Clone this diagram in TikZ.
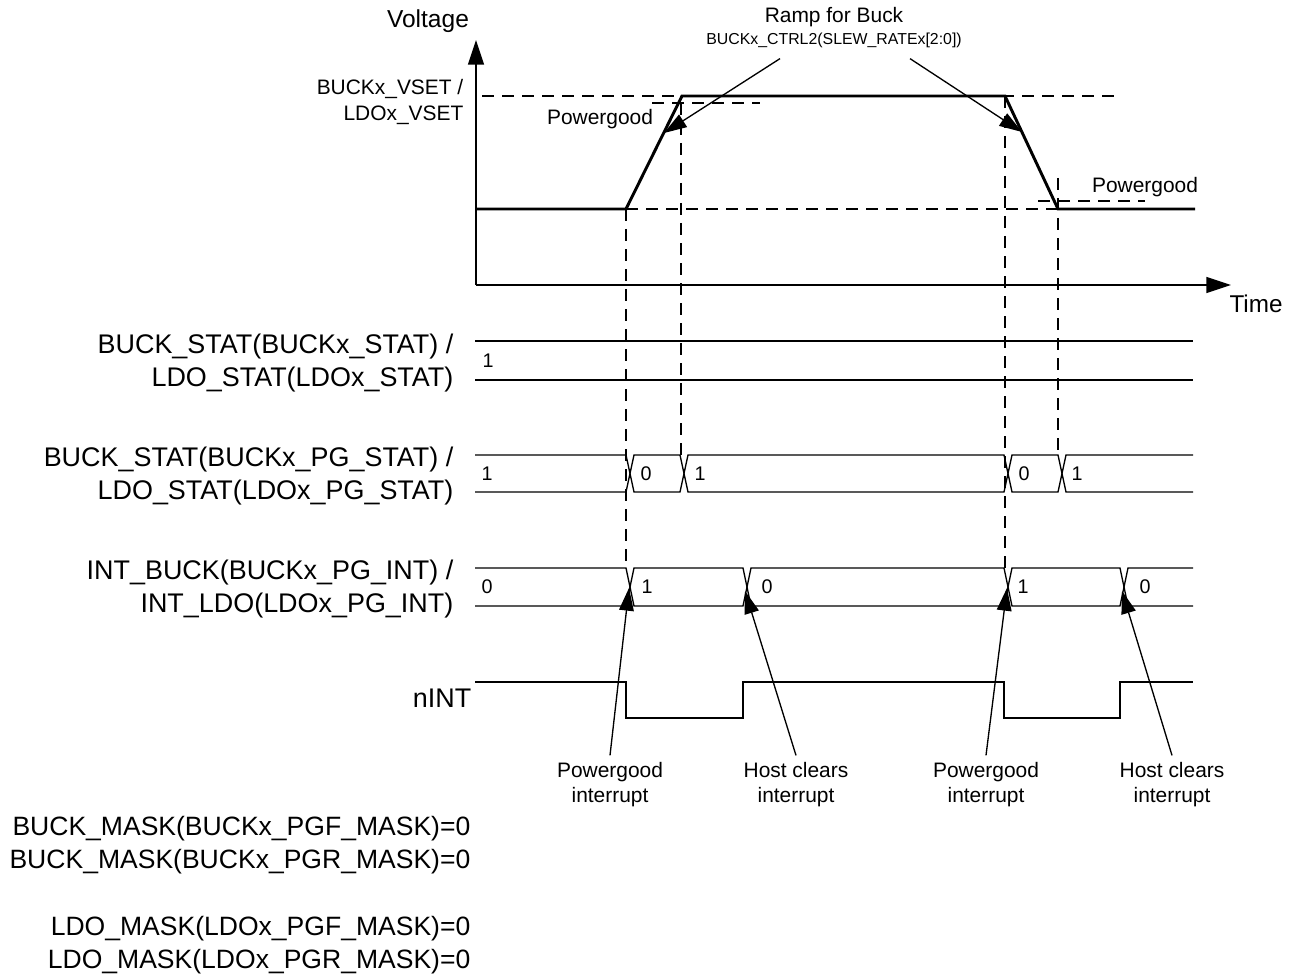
\documentclass[tikz,border=0pt]{standalone}
\usepackage{fontspec}
\setmainfont{Liberation Sans}
\usetikzlibrary{arrows.meta}

\tikzset{every picture/.style={line width=1pt}}
\tikzset{
  waveline/.style={line width=2.2pt, line join=miter},
  guideline/.style={dash pattern=on 9pt off 6pt},
  axisline/.style={-{Triangle[length=18.5pt,width=12pt]}},
  callout/.style={-{Triangle[length=17pt,width=11pt]}},
  siglabel/.style={anchor=east, align=right, inner sep=0.75pt, font=\fontsize{20.2pt}{24.75pt}\selectfont},
  masklabel/.style={siglabel, font=\fontsize{19.9pt}{24.75pt}\selectfont},
  notetext/.style={inner sep=0.75pt, font=\fontsize{15.7pt}{19.5pt}\selectfont},
  annote/.style={align=center, inner sep=5pt, font=\fontsize{15.7pt}{18.75pt}\selectfont},
  bitval/.style={inner sep=0.75pt, font=\fontsize{14.8pt}{16pt}\selectfont},
}

\begin{document}
\begin{tikzpicture}[x=0.75pt,y=0.75pt,yscale=-1,xscale=1]
\useasboundingbox (0,0) rectangle (1296,977);
%Axes
\draw [axisline] (476,285) -- (476,40) ;
\draw [axisline] (476,285) -- (1231,285) ;
%Voltage ramp
\draw [waveline] (476,209) -- (626,209) -- (682,96) -- (1005,96) -- (1058,209) -- (1195,209) ;
%Dashed guides
\draw [guideline] (482,96) -- (1120,96) ;
\draw [guideline] (626,209) -- (1058,209) ;
\draw [guideline] (652,103) -- (760,103) ;
\draw [guideline] (1038,201) -- (1145,201) ;
\draw [guideline] (626,209) -- (626,568) ;
\draw [guideline] (681,103) -- (681,455) ;
\draw [guideline] (1005,96) -- (1005,568) ;
\draw [guideline] (1058,178) -- (1058,455) ;
%Bus: STAT
\draw (475,341) -- (1193,341) ;
\draw (475,380) -- (1193,380) ;
%Bus: PG_STAT
\draw (475,455) -- (626,455) -- (634,492) -- (680,492) -- (688,455) -- (1004,455) -- (1012,492) -- (1058,492) -- (1066,455) -- (1193,455) ;
\draw (475,492) -- (626,492) -- (634,455) -- (680,455) -- (688,492) -- (1004,492) -- (1012,455) -- (1058,455) -- (1066,492) -- (1193,492) ;
%Bus: PG_INT
\draw (475,568) -- (626,568) -- (634,606) -- (743,606) -- (751,568) -- (1004,568) -- (1012,606) -- (1120,606) -- (1128,568) -- (1193,568) ;
\draw (475,606) -- (626,606) -- (634,568) -- (743,568) -- (751,606) -- (1004,606) -- (1012,568) -- (1120,568) -- (1128,606) -- (1193,606) ;
%nINT
\draw (475,682) -- (626,682) -- (626,718) -- (743,718) -- (743,682) -- (1004,682) -- (1004,718) -- (1120,718) -- (1120,682) -- (1193,682) ;
%Arrow targets
\coordinate (rampup) at (664,133) ;
\coordinate (rampdn) at (1022,132) ;
\coordinate (pgx1) at (629,588) ;
\coordinate (hcx1) at (745,591) ;
\coordinate (pgx2) at (1007,588) ;
\coordinate (hcx2) at (1122,591) ;
% Text Node
\draw (428,28) node (volt) [anchor=base][inner sep=0.75pt] [font=\fontsize{18.4pt}{22pt}\selectfont] {Voltage};
% Text Node
\draw (1256,312) node (time) [anchor=base][inner sep=0.75pt] [font=\fontsize{18.2pt}{22pt}\selectfont] {Time};
% Text Node
\draw (465,102) node (vset) [anchor=east][align=right] [notetext] {BUCKx\_VSET /\\LDOx\_VSET};
% Text Node
\draw (600,125) node (pgup) [anchor=base] [notetext] {Powergood};
% Text Node
\draw (1145,193) node (pgdn) [anchor=base] [notetext] {Powergood};
% Text Node
\draw (834,23) node (rampt) [anchor=base] [notetext] {Ramp for Buck};
% Text Node
\draw (834,45) node (ramp) [anchor=base][inner sep=0.75pt] [font=\fontsize{11.9pt}{14pt}\selectfont] {BUCKx\_CTRL2(SLEW\_RATEx[2:0])};
% Text Node
\draw (455,363) node (lstat) [siglabel] {BUCK\_STAT(BUCKx\_STAT) /\\LDO\_STAT(LDOx\_STAT)};
% Text Node
\draw (455,476) node (lpg) [siglabel] {BUCK\_STAT(BUCKx\_PG\_STAT) /\\LDO\_STAT(LDOx\_PG\_STAT)};
% Text Node
\draw (455,589) node (lint) [siglabel] {INT\_BUCK(BUCKx\_PG\_INT) /\\INT\_LDO(LDOx\_PG\_INT)};
% Text Node
\draw (473,707) node (lnint) [anchor=base east][inner sep=0.75pt] [font=\fontsize{20.2pt}{24.75pt}\selectfont] {nINT};
% Text Node
\draw (472,845) node (mbuck) [masklabel] {BUCK\_MASK(BUCKx\_PGF\_MASK)=0\\BUCK\_MASK(BUCKx\_PGR\_MASK)=0};
% Text Node
\draw (472,945) node (mldo) [masklabel] {LDO\_MASK(LDOx\_PGF\_MASK)=0\\LDO\_MASK(LDOx\_PGR\_MASK)=0};
% Bit values
\draw (488,361) node (s1) [bitval] {1};
\draw (487,474) node (p1) [bitval] {1};
\draw (646,474) node (p2) [bitval] {0};
\draw (700,474) node (p3) [bitval] {1};
\draw (1024,474) node (p4) [bitval] {0};
\draw (1077,474) node (p5) [bitval] {1};
\draw (487,587) node (i1) [bitval] {0};
\draw (647,587) node (i2) [bitval] {1};
\draw (767,587) node (i3) [bitval] {0};
\draw (1023,587) node (i4) [bitval] {1};
\draw (1145,587) node (i5) [bitval] {0};
% Text Node
\draw (610,785) node (pgi1) [annote] {Powergood\\interrupt};
% Text Node
\draw (796,785) node (hci1) [annote] {Host clears\\interrupt};
% Text Node
\draw (986,785) node (pgi2) [annote] {Powergood\\interrupt};
% Text Node
\draw (1172,785) node (hci2) [annote] {Host clears\\interrupt};
%Callouts
\draw [callout] ([xshift=-40.5pt,yshift=6.5pt]ramp.south) -- (rampup) ;
\draw [callout] ([xshift=57pt,yshift=6.5pt]ramp.south) -- (rampdn) ;
\draw [callout] (pgi1.north) -- (pgx1) ;
\draw [callout] (hci1.north) -- (hcx1) ;
\draw [callout] (pgi2.north) -- (pgx2) ;
\draw [callout] (hci2.north) -- (hcx2) ;
\end{tikzpicture}
\end{document}
